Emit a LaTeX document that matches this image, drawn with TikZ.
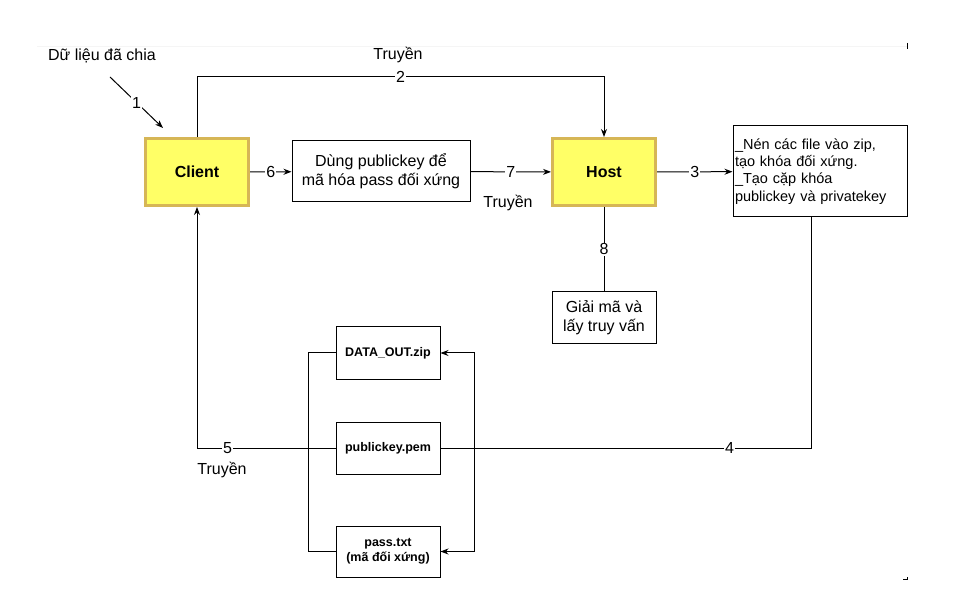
\documentclass[tikz,border=0pt]{standalone}
\usepackage{fontspec}
\setmainfont{Liberation Sans}
\usepackage{xcolor}
\usepackage{tikz}
\usetikzlibrary{positioning,calc,arrows.meta}

\definecolor{hubfill}{RGB}{255,255,102}
\definecolor{hubline}{RGB}{214,182,86}

\begin{document}
\begin{tikzpicture}[x=1pt, y=-1pt, >={Stealth[length=8pt,width=6pt]}, line width=1pt,
    hub/.style={draw=hubline, line width=3pt, fill=hubfill, minimum width=103pt, minimum height=67pt, font=\fontsize{16}{19}\selectfont\bfseries},
    proc/.style={draw, fill=white, align=center, inner sep=1pt, font=\fontsize{16}{19}\selectfont},
    file/.style={draw, fill=white, align=center, inner sep=1pt, minimum width=104pt, minimum height=52pt, font=\fontsize{12.5}{15}\selectfont\bfseries},
    lbl/.style={fill=white, inner sep=1pt, font=\fontsize{16}{19}\selectfont},
    txt/.style={inner sep=0pt, font=\fontsize{16}{19}\selectfont}]
    \useasboundingbox (0,0) rectangle (964,612);
    % page marks
    \draw [black!4, line width=0.8pt] (37,46) -- (907,46);
    \draw [line width=0.8pt] (907,43) -- (907,49);
    \draw [line width=0.8pt] (903,579.5) -- (907.5,579.5) -- (907.5,577);

    \node [hub] (client) at (197,172) {Client};
    \node [hub] (host) at (604,172) {Host};
    \node [proc, minimum width=178pt, minimum height=61pt] (enc) at (381,171.5) {Dùng publickey để\\mã hóa pass đối xứng};
    \node [proc, minimum width=174pt, minimum height=91pt, text width=170pt, align=left, font=\fontsize{14.5}{17.3}\selectfont] (gen) at (820,171.5) {\_Nén các file vào zip,\\tạo khóa đối xứng.\\\_Tạo cặp khóa\\publickey và privatekey};
    \node [proc, minimum width=104pt, minimum height=52pt] (dec) at (604,318) {Giải mã và\\lấy truy vấn};

    \node [file] (zip) at (388,353) {DATA\_OUT.zip};
    \node [file] (pub) at (388,448) {publickey.pem};
    \node [file, minimum height=51pt] (pass) at (388,551.5) {pass.txt\\(mã đối xứng)};

    \node [txt] (input) at (102,56) {Dữ liệu đã chia};
    \node [txt] (send2) at (398,55) {Truyền};
    \node [txt] (send7) at (508,203) {Truyền};
    \node [txt] (send5) at (222,470) {Truyền};

    \coordinate (in1) at (110,77);
    \coordinate (in2) at (163,128);
    \coordinate (c2) at (198,77);
    \coordinate (c4) at (811,448);

    \draw [->] (in1) -- node [lbl] {1} (in2);
    \draw [->] (client.north) -- (client.north |- c2) -- node [lbl] {2} (host.north |- c2) -- (host.north);
    \draw [->] (client) -- node [lbl] {6} (enc);
    \draw [->] (enc) -- node [lbl] {7} (host);
    \draw [->] (host) -- node [lbl] {3} (gen);
    \draw (host) -- node [lbl] {8} (dec);
    \draw (c4 |- gen.south) -- (c4) -- node [lbl, pos=0.22] {4} (pub.east);
    \draw [->] (pub.west) -- node [lbl, pos=0.78] {5} (client.south |- pub.west) -- (client.south);

    \draw (zip.west) -- ++(-27,0) |- (pass.west);
    \draw [<->] (zip.east) -- ++(34,0) |- (pass.east);
\end{tikzpicture}
\end{document}
